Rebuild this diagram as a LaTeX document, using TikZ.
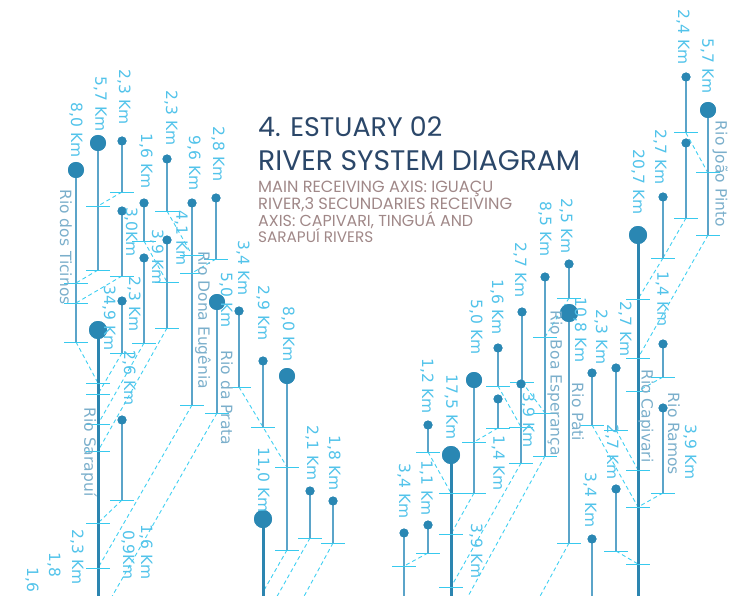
\documentclass[tikz,border=0pt]{standalone}
\usepackage{fontspec}
\usepackage{graphicx}
\setmainfont{DejaVu Sans}
\newfontfamily\headfont{Poppins}

\definecolor{dotc}{HTML}{2A87B3}
\definecolor{stemc}{HTML}{5BA4C9}
\definecolor{trunkc}{HTML}{2C85B0}
\definecolor{tickc}{HTML}{38C9EE}
\definecolor{linkc}{HTML}{3FD0F2}
\definecolor{kmc}{HTML}{52C3EA}
\definecolor{rivc}{HTML}{7BAFCB}
\definecolor{titlec}{HTML}{2B4769}
\definecolor{subc}{HTML}{A08888}

\begin{document}
\begin{tikzpicture}[x=1pt,y=-1pt,
  dotS/.style={circle,fill=dotc,inner sep=0pt,minimum size=9pt},
  dotM/.style={circle,fill=dotc,inner sep=0pt,minimum size=16pt},
  dotL/.style={circle,fill=dotc,inner sep=0pt,minimum size=18pt},
  stem/.style={draw=stemc,line width=1.8pt},
  trunk/.style={draw=trunkc,line width=3pt},
  tick/.style={draw=tickc,line width=1pt},
  link/.style={draw=linkc,line width=0.9pt,dash pattern=on 4pt off 3pt},
  km/.style={text=kmc,font=\fontsize{15.5}{18}\selectfont,rotate=-90,inner sep=0pt},
  riv/.style={text=rivc,font=\fontsize{15.5}{18}\selectfont,rotate=-90,inner sep=0pt},
  head/.style={anchor=base west,inner sep=0pt,text=titlec},
  sub/.style={anchor=base west,inner sep=0pt,text=subc},
]
\useasboundingbox (0,0) rectangle (730,596);

% ---------------- Sarapui basin (left) ----------------
\node[dotM] (a) at (76,170) {};   \coordinate (ae) at (76,342);
\coordinate (aj1) at (76,283);    \coordinate (aj2) at (76,303);
\node[dotM] (b) at (98,143) {};   \coordinate (be) at (98,270);
\coordinate (bj) at (98,206);
\node[dotS] (c) at (122,141) {};  \coordinate (ce) at (122,192);
\node[dotS] (d) at (122,211) {};  \coordinate (de) at (122,276);
\node[dotS] (e) at (144,203) {};  \coordinate (ee) at (144,241);
\node[dotS] (f) at (144,258) {};  \coordinate (fe) at (144,343);
\node[dotS] (g) at (167,159) {};  \coordinate (ge) at (167,211);
\node[dotS] (h) at (167,240) {};  \coordinate (he) at (167,328);
\coordinate (hj) at (167,282);
\node[dotS] (de1) at (192,203) {}; \coordinate (dee) at (192,405);
\coordinate (dej1) at (192,255);  \coordinate (dej2) at (192,273);
\node[dotS] (i) at (216,198) {};  \coordinate (ie) at (216,259);
\node[dotM] (j) at (217,302) {};  \coordinate (je) at (217,413);
\coordinate (jx) at (110,600);
\node[dotS] (k) at (239,311) {};  \coordinate (ke) at (239,387);
\node[dotS] (l) at (263,361) {};  \coordinate (le) at (263,427);
\node[dotM] (m) at (287,376) {};  \coordinate (me) at (287,550);
\coordinate (mj) at (287,467);
\node[dotL] (n) at (263,519) {};  \coordinate (nb) at (263,600);
\coordinate (nj) at (263,592);
\node[dotS] (o) at (310,491) {};  \coordinate (oe) at (310,538);
\coordinate (ox) at (275,600);
\node[dotS] (p) at (333,501) {};  \coordinate (pe) at (333,543);
\coordinate (px) at (302,600);
\node[dotS] (q) at (122,420) {};  \coordinate (qe) at (122,500);
\node[dotS] (r) at (122,301) {};  \coordinate (re) at (122,353);
\node[dotL] (s) at (98,330) {};   \coordinate (sb) at (98,600);
\coordinate (s1) at (98,383);  \coordinate (s2) at (98,394);
\coordinate (s3) at (98,424);  \coordinate (s4) at (98,451);
\coordinate (s5) at (98,523);  \coordinate (s6) at (98,568);

% ---------------- middle basin ----------------
\node[dotS] (sa) at (569,264) {}; \coordinate (sae) at (569,298);
\node[dotL] (pt) at (569,313) {}; \coordinate (pte) at (569,543);
\coordinate (ptx) at (538,600);
\node[dotS] (t) at (545,277) {};  \coordinate (te) at (545,456);
\coordinate (tj1) at (545,337);   \coordinate (tj2) at (545,413);
\coordinate (tx) at (466,600);
\node[dotS] (u) at (522,312) {};  \coordinate (ue) at (522,382);
\node[dotS] (v) at (521,384) {};  \coordinate (ve) at (521,463);
\coordinate (vj) at (521,427);
\node[dotS] (w) at (498,348) {};  \coordinate (we) at (498,386);
\node[dotS] (x) at (498,399) {};  \coordinate (xe) at (498,428);
\node[dotM] (y) at (474,380) {};  \coordinate (ye) at (474,493);
\coordinate (yj) at (474,442);
\node[dotL] (z) at (451,455) {};  \coordinate (zb) at (451,600);
\coordinate (zj1) at (451,493);   \coordinate (zj2) at (451,534);
\coordinate (zj3) at (451,587);
\node[dotS] (aa) at (428,425) {}; \coordinate (aae) at (428,452);
\node[dotS] (ab) at (428,525) {}; \coordinate (abe) at (428,553);
\node[dotS] (ac) at (404,533) {}; \coordinate (acb) at (404,600);
\coordinate (acj) at (404,566);

% ---------------- Capivari basin (right) ----------------
\node[dotS] (ca) at (686,77) {};  \coordinate (cae) at (686,133);
\node[dotS] (cb) at (686,143) {}; \coordinate (cbe) at (686,218);
\node[dotM] (jp) at (708,110) {}; \coordinate (jpe) at (708,235);
\coordinate (jpj) at (708,173);
\node[dotS] (cc) at (663,197) {}; \coordinate (cce) at (663,258);
\node[dotL] (cv) at (638,235) {}; \coordinate (cvb) at (638,600);
\coordinate (cj1) at (638,299);  \coordinate (cj2) at (638,358);
\coordinate (cj3) at (638,391);  \coordinate (cj4) at (638,470);
\coordinate (cj5) at (638,507);  \coordinate (cj6) at (638,564);
\node[dotS] (cd) at (663,344) {}; \coordinate (cde) at (663,377);
\node[dotS] (ce2) at (663,408) {}; \coordinate (ce2e) at (663,493);
\node[dotS] (cf) at (616,368) {}; \coordinate (cfe) at (616,430);
\node[dotS] (cg) at (592,373) {}; \coordinate (cge) at (592,425);
\node[dotS] (ch) at (616,489) {}; \coordinate (che) at (616,551);
\node[dotS] (ci) at (592,539) {}; \coordinate (cib) at (592,600);

% ---------------- dashed confluence links ----------------
\draw[link] (ce) -- (bj);   \draw[link] (be) -- (aj1);
\draw[link] (de) -- (aj2);  \draw[link] (ee) -- (hj);
\draw[link] (ge) -- (dej1); \draw[link] (ie) -- (dej2);
\draw[link] (ae) -- (s1);   \draw[link] (re) -- (s2);
\draw[link] (fe) -- (s3);   \draw[link] (he) -- (s4);
\draw[link] (qe) -- (s5);   \draw[link] (dee) -- (s6);
\draw[link] (je) -- (jx);
\draw[link] (ke) -- (le) -- (mj);
\draw[link] (me) -- (nj);
\draw[link] (oe) -- (ox);   \draw[link] (pe) -- (px);

\draw[link] (sae) -- (tj1); \draw[link] (ue) -- (tj2);
\draw[link] (we) -- (vj);   \draw[link] (xe) -- (yj);
\draw[link] (aae) -- (zj1); \draw[link] (ye) -- (zj2);
\draw[link] (abe) -- (acj); \draw[link] (ve) -- (zj3);
\draw[link] (te) -- (tx);   \draw[link] (pte) -- (ptx);

\draw[link] (cae) -- (jpj); \draw[link] (cbe) -- (cce);
\draw[link] (cce) -- (cj1); \draw[link] (jpe) -- (cj2);
\draw[link] (cde) -- (cj3); \draw[link] (cfe) -- (cj4);
\draw[link] (cge) -- (cj5); \draw[link] (ce2e) -- (cj5);
\draw[link] (che) -- (cj6);

% ---------------- stems ----------------
\foreach \top/\bot in {a/ae,b/be,c/ce,d/de,e/ee,f/fe,g/ge,h/he,de1/dee,i/ie,j/je,
  k/ke,l/le,m/me,o/oe,p/pe,q/qe,r/re,
  sa/sae,pt/pte,t/te,u/ue,v/ve,w/we,x/xe,y/ye,aa/aae,ab/abe,ac/acb,
  ca/cae,cb/cbe,jp/jpe,cc/cce,cd/cde,ce2/ce2e,cf/cfe,cg/cge,ch/che,ci/cib}
  \draw[stem] (\top.center) -- (\bot);
\foreach \top/\bot in {s/sb,n/nb,z/zb,cv/cvb}
  \draw[trunk] (\top.center) -- (\bot);

% ---------------- ticks at stem ends and confluences ----------------
\foreach \pt in {ae,aj1,aj2,be,bj,ce,de,ee,fe,ge,he,hj,dee,dej1,dej2,ie,je,ke,le,me,mj,
  oe,pe,qe,re,s1,s2,s3,s4,s5,s6,
  sae,pte,te,tj1,tj2,ue,ve,vj,we,xe,ye,yj,zj1,zj2,zj3,aae,abe,acj,
  cae,cbe,jpe,jpj,cce,cj1,cj2,cj3,cj4,cj5,cj6,cde,ce2e,cfe,cge,che}
  \draw[tick] ([xshift=-12pt]\pt) -- ([xshift=12pt]\pt);

% ---------------- dots on top ----------------
\foreach \nd in {a,b,j,m,y,jp}
  \fill[dotc] (\nd) circle (8pt);
\foreach \nd in {s,n,z,pt,cv}
  \fill[dotc] (\nd) circle (9pt);
\foreach \nd in {c,d,e,f,g,h,de1,i,k,l,o,p,q,r,sa,t,u,v,w,x,aa,ab,ac,ca,cb,cc,cd,ce2,cf,cg,ch,ci}
  \fill[dotc] (\nd) circle (4.5pt);

% ---------------- distances ----------------
\node[km] (k1) at (76,130) {8,0 Km};
\node[km] (k2) at (100,104) {5,7 Km};
\node[km] (k3) at (124,97) {2,3 Km};
\node[km] (k4) at (146,161) {1,6 Km};
\node[km] (k5) at (171,118) {2,3 Km};
\node[km] (k6) at (194,163) {9,6 Km};
\node[km] (k7) at (218,154) {2,8 Km};
\node[km] (k8) at (131,232) {3,0Km};
\node[km] (k9) at (157,257) {3,9 Km};
\node[km] (k10) at (181,238) {4,1 Km};
\node[km] (k11) at (109,318) {34,9 Km};
\node[km] (k12) at (134,304) {2,3 Km};
\node[km] (k13) at (129,378) {2,6 Km};
\node[km] (k14) at (226,300) {5,0 Km};
\node[km] (k15) at (243,268) {3,4 Km};
\node[km] (k16) at (263,313) {2,9 Km};
\node[km] (k17) at (288,334) {8,0 Km};
\node[km] (k18) at (263,480) {11,0 Km};
\node[km] (k19) at (312,453) {2,1 Km};
\node[km] (k20) at (334,463) {1,8 Km};
\node[km] (k21) at (77,557) {2,3 Km};
\node[km] (k22) at (54,565) {1,8};
\node[km] (k23) at (32,580) {1,6};
\node[km] (k24) at (146,552) {1,6 Km};
\node[km] (k25) at (128,555) {0,9Km};

\node[km] (k26) at (566,226) {2,5 Km};
\node[km] (k27) at (545,229) {8,5 Km};
\node[km] (k28) at (520,270) {2,7 Km};
\node[km] (k29) at (497,307) {1,6 Km};
\node[km] (k30) at (476,327) {5,0 Km};
\node[km] (k31) at (427,386) {1,2 Km};
\node[km] (k32) at (451,407) {17,5 Km};
\node[km] (k33) at (580,330) {10,8 Km};
\node[km] (k34) at (528,420) {3,9 Km};
\node[km] (k35) at (498,463) {1,4 Km};
\node[km] (k36) at (426,488) {1,1 Km};
\node[km] (k37) at (404,491) {3,4 Km};
\node[km] (k38) at (476,551) {3,9 Km};

\node[km] (k39) at (683,37) {2,4 Km};
\node[km] (k40) at (707,66) {5,7 Km};
\node[km] (k41) at (660,157) {2,7 Km};
\node[km] (k42) at (638,182) {20,7 Km};
\node[km] (k43) at (662,299) {1,4 Km};
\node[km] (k44) at (625,329) {2,7 Km};
\node[km] (k45) at (601,337) {2,3 Km};
\node[km] (k46) at (690,452) {3,9 Km};
\node[km] (k47) at (612,452) {2,7 Km};
\node[km] (k48) at (590,500) {3,4 Km};

% ---------------- river names ----------------
\node[riv] (r1) at (66,247) {Rio dos Ticinos};
\node[riv] (r2) at (89,452) {Rio Sarapuí};
\node[riv] (r3) at (203,320) {Rio Dona Eugênia};
\node[riv] (r4) at (227,398) {Rio da Prata};
\node[riv] (r5) at (555,383) {Rio Boa Esperança};
\node[riv] (r6) at (578,412) {Rio Pati};
\node[riv] (r7) at (720,174) {Rio João Pinto};
\node[riv] (r8) at (646,416) {Rio Capivari};
\node[riv] (r9) at (674,434) {Rio Ramos};

% ---------------- heading ----------------
\node[head] (t1) at (258,137) {\resizebox{184pt}{!}{\headfont 4. ESTUARY 02}};
\node[head] (t2) at (258,171) {\resizebox{322pt}{!}{\headfont RIVER SYSTEM DIAGRAM}};
\node[sub] (u1) at (258,192) {\resizebox{235pt}{!}{\headfont MAIN RECEIVING AXIS: IGUAÇU}};
\node[sub] (u2) at (258,209) {\resizebox{254pt}{!}{\headfont RIVER,3 SECUNDARIES RECEIVING}};
\node[sub] (u3) at (258,226) {\resizebox{215pt}{!}{\headfont AXIS: CAPIVARI, TINGUÁ AND}};
\node[sub] (u4) at (258,242) {\resizebox{115pt}{!}{\headfont SARAPUÍ RIVERS}};
\end{tikzpicture}
\end{document}
